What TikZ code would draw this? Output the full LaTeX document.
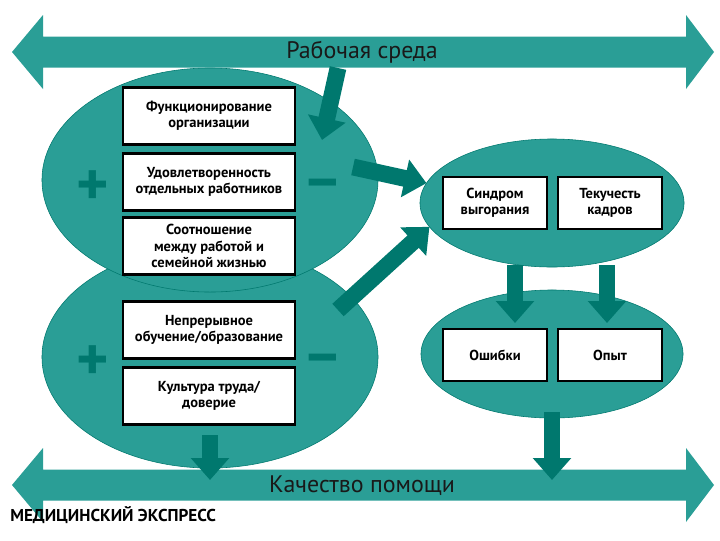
\documentclass[tikz,border=0pt]{standalone}
\usepackage{fontspec}
\setmainfont{PT Sans}
\usetikzlibrary{arrows.meta,shapes.geometric}
\definecolor{sea}{RGB}{42,158,150}
\definecolor{deep}{RGB}{0,120,110}
\tikzset{
  box/.style={draw=black, line width=1.6pt, fill=white, minimum width=4.3cm,
    minimum height=1.42cm, align=center, inner sep=2pt,
    font=\bfseries\fontsize{10.3}{11.6}\selectfont},
  sbox/.style={box, minimum width=2.6cm, minimum height=1.3cm},
  blob/.style={ellipse, fill=sea, draw=deep, thin, inner sep=0pt, outer sep=0pt},
  fat/.style={draw=deep, line width=0.42cm, -{Triangle[width=0.93cm,length=0.55cm]}},
  sign/.style={text=deep, inner sep=0pt, font=\bfseries\fontsize{44}{44}\selectfont},
  bandtext/.style={text=black!90, inner sep=0pt, font=\fontsize{17}{17}\selectfont},
}
\begin{document}
\begin{tikzpicture}[x=0.025cm, y=-0.025cm]
  \useasboundingbox (0,0) rectangle (720,540);
  \node[blob, minimum width=8.4cm, minimum height=5.55cm] (team) at (210,357) {};
  \node[blob, minimum width=8.4cm, minimum height=5.6cm] (staff) at (210,180) {};
  \node[blob, minimum width=6.6cm, minimum height=3.2cm] (burn) at (552,203) {};
  \node[blob, minimum width=6.55cm, minimum height=3.2cm] (result) at (552,354) {};
  \foreach \yy in {52,485}{
    \fill[sea] (12,\yy) -- (43,{\yy-37}) -- (43,{\yy-15.5}) -- (686,{\yy-15.5})
      -- (686,{\yy-37}) -- (714,\yy) -- (686,{\yy+37}) -- (686,{\yy+15.5})
      -- (43,{\yy+15.5}) -- (43,{\yy+37}) -- cycle;
  }
  \node[bandtext] (work) at (362,52) {Рабочая среда};
  \node[bandtext] (care) at (362,486) {Качество помощи};
  \node[box] (org) at (209,116) {Функционирование\\организации};
  \node[box] (sat) at (209,182) {Удовлетворенность\\отдельных работников};
  \node[box] (bal) at (209,246) {Соотношение\\между работой и\\семейной жизнью};
  \node[box] (edu) at (209,330) {Непрерывное\\обучение/образование};
  \node[box] (cult) at (209,396) {Культура труда/\\доверие};
  \node[sbox] (syn) at (495,203) {Синдром\\выгорания};
  \node[sbox] (turn) at (610,203) {Текучесть\\кадров};
  \node[sbox] (err) at (495,355) {Ошибки};
  \node[sbox] (exp) at (610,355) {Опыт};
  \foreach \yy/\nm in {185/A,360/B}{
    \node[sign] (plus\nm) at (93,{\yy+3}) {+};
    \node[sign] (minus\nm) at (323,{\yy+6}) {−};
  }
  \coordinate (env) at (338,68);
  \coordinate (envend) at (322,140);
  \coordinate (staffout) at (353,167);
  \coordinate (teamout) at (338,310);
  \draw[fat] (env) -- (envend);
  \draw[fat] (staffout) -- (burn.171);
  \draw[fat] (teamout) -- (burn.191);
  \foreach \xx/\yo/\ye in {515/265/323,607/265/323,210/435/480,552/412/480}{
    \coordinate (from\xx) at (\xx,\yo);
    \coordinate (to\xx) at (\xx,\ye);
    \draw[fat] (from\xx) -- (to\xx);
  }
  \node[anchor=west, inner sep=0pt, font=\bfseries\fontsize{12.2}{12.2}\selectfont] (mark)
    at (10,515) {МЕДИЦИНСКИЙ ЭКСПРЕСС};
\end{tikzpicture}
\end{document}
